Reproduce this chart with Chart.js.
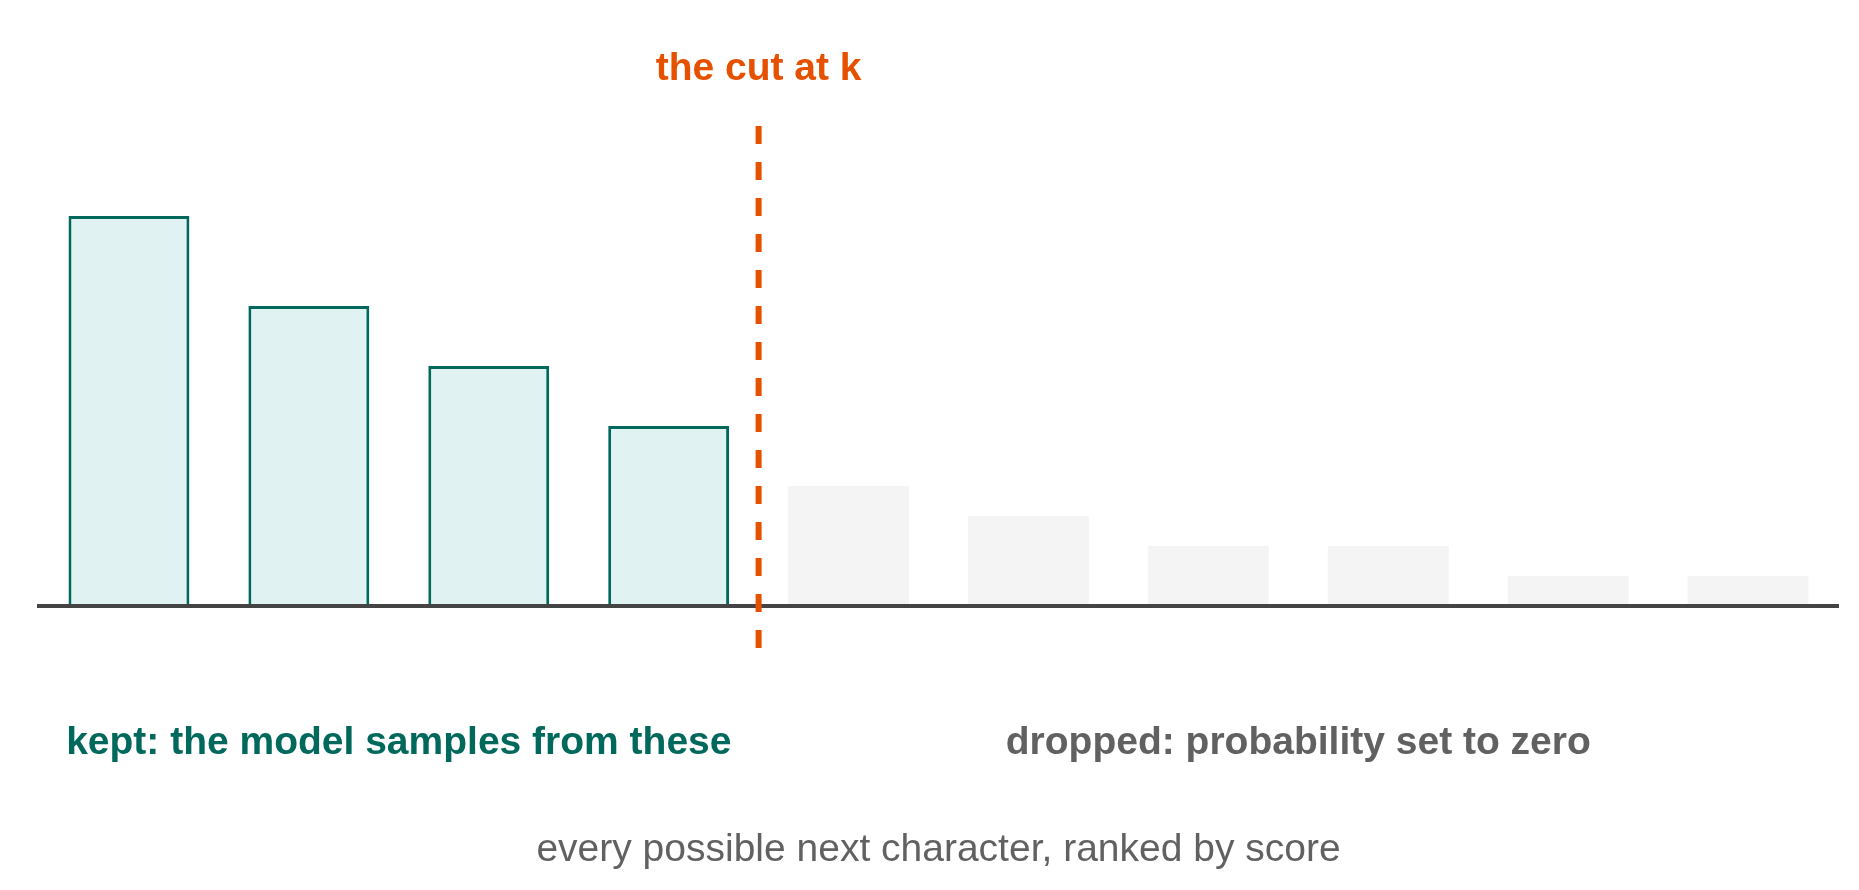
<!DOCTYPE html>
<html>
<head>
<meta charset="utf-8">
<title>top-k cut</title>
<script src="https://cdn.jsdelivr.net/npm/chart.js@4"></script>
<style>
    html, body { margin: 0; padding: 0; background: #ffffff; }
    #wrap { width: 1859px; height: 890px; position: relative; }
</style>
</head>
<body>
<div id="wrap"><canvas id="topk"></canvas></div>
<script>
// candidates ranked by score (labels are not shown)
const ranks = ['1', '2', '3', '4', '5', '6', '7', '8', '9', '10'];
const scores = [0.26, 0.20, 0.16, 0.12, 0.08, 0.06, 0.04, 0.04, 0.02, 0.02];
const k = 4;

const cutLabel = 'the cut at k';
const keptLabel = 'kept: the model samples from these';
const droppedLabel = 'dropped: probability set to zero';
const axisCaption = 'every possible next character, ranked by score';

const FONT = '"Liberation Sans", Arial, Helvetica, sans-serif';
const ORANGE = '#e65100';
const TEAL = '#00695c';
const GREY_TEXT = '#616161';

const keptFill = '#e0f2f1';
const droppedFill = '#f4f4f4';

/**
 * 虚线和文字标注
 */
const cutPlugin = {
    id: 'cutPlugin',
    afterDraw(chart) {
        const ctx = chart.ctx;
        const x = chart.scales.x;
        const y = chart.scales.y;
        const area = chart.chartArea;

        const cutX = x.getPixelForValue(k - 0.5);

        // dashed cut line
        ctx.save();
        ctx.strokeStyle = ORANGE;
        ctx.lineWidth = 6;
        ctx.setLineDash([18, 18]);
        ctx.beginPath();
        ctx.moveTo(cutX, y.getPixelForValue(y.max));
        ctx.lineTo(cutX, area.bottom + 42);
        ctx.stroke();
        ctx.restore();

        ctx.save();
        ctx.textAlign = 'center';
        ctx.textBaseline = 'alphabetic';

        ctx.font = 'bold 39px ' + FONT;
        ctx.fillStyle = ORANGE;
        ctx.fillText(cutLabel, cutX, area.top - 46);

        const keptX = x.getPixelForValue((k - 1) / 2);
        const droppedX = x.getPixelForValue((k + ranks.length - 1) / 2);
        ctx.fillStyle = TEAL;
        ctx.fillText(keptLabel, keptX, area.bottom + 148);
        ctx.fillStyle = GREY_TEXT;
        ctx.fillText(droppedLabel, droppedX, area.bottom + 148);

        ctx.font = '39px ' + FONT;
        ctx.fillStyle = GREY_TEXT;
        ctx.fillText(axisCaption, (area.left + area.right) / 2, area.bottom + 255);
        ctx.restore();
    }
};

const chart = new Chart(document.getElementById('topk'), {
    type: 'bar',
    data: {
        labels: ranks,
        datasets: [{
            data: scores,
            backgroundColor: scores.map((v, i) => i < k ? keptFill : droppedFill),
            borderColor: scores.map((v, i) => i < k ? TEAL : droppedFill),
            borderWidth: scores.map((v, i) => i < k ? 3 : 0),
            borderSkipped: 'start',
            categoryPercentage: 1.0,
            barPercentage: 0.672
        }]
    },
    options: {
        responsive: true,
        maintainAspectRatio: false,
        animation: false,
        layout: {
            padding: { left: 39, right: 21, top: 126, bottom: 284 }
        },
        plugins: {
            legend: { display: false },
            tooltip: { enabled: false }
        },
        scales: {
            x: {
                grid: { display: false, drawTicks: false },
                ticks: { display: false },
                border: { display: true, color: '#444444', width: 4, z: 1 }
            },
            y: {
                display: false,
                min: 0,
                max: 0.32
            }
        }
    },
    plugins: [cutPlugin]
});
</script>
</body>
</html>
